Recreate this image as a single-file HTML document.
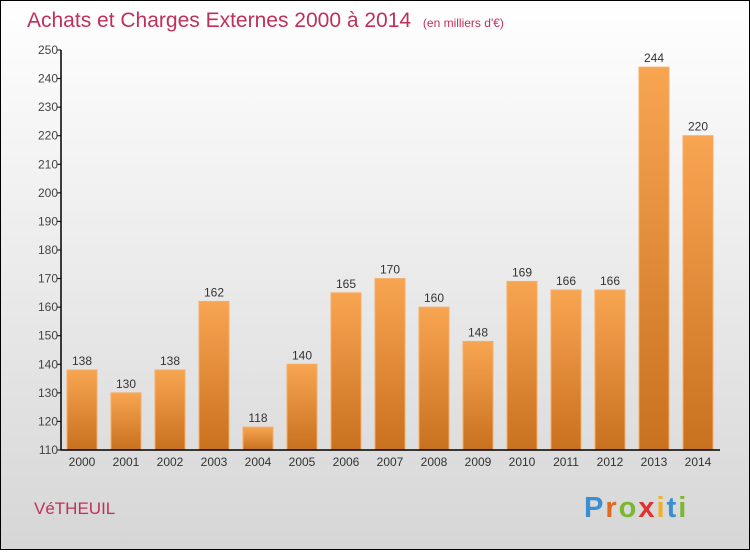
<!DOCTYPE html>
<html><head><meta charset="utf-8"><style>
html,body{margin:0;padding:0}
body{width:750px;height:550px;overflow:hidden;font-family:"Liberation Sans",sans-serif}
</style></head><body>
<svg id="chart" width="750" height="550" xmlns="http://www.w3.org/2000/svg">
<defs>
<linearGradient id="bg" x1="0" y1="0" x2="0" y2="1"><stop offset="0" stop-color="#ffffff"/><stop offset="1" stop-color="#d6d6d6"/></linearGradient>
<linearGradient id="bar" x1="0" y1="0" x2="0" y2="1"><stop offset="0" stop-color="#f8a552"/><stop offset="1" stop-color="#c8711e"/></linearGradient>
</defs>
<rect x="0.5" y="0.5" width="749" height="549" fill="url(#bg)" stroke="#000"/>
<text x="27" y="27" font-size="21" fill="#c0305a" style="font-weight:300">Achats et Charges Externes 2000 à 2014 <tspan font-size="12" dx="6">(en milliers d'€)</tspan></text>
<g id="plot"></g>
<text x="34" y="514" font-size="17" fill="#c0305a">VéTHEUIL</text>
<text x="584" y="517" font-size="29" font-weight="bold" letter-spacing="2"><tspan fill="#3a8fd0">P</tspan><tspan fill="#e06a20">r</tspan><tspan fill="#7ab830">o</tspan><tspan fill="#e03030">x</tspan><tspan fill="#f0b020">i</tspan><tspan fill="#3a8fd0">t</tspan><tspan fill="#7ab830">i</tspan></text>
</svg>
<script>
const categories=["2000","2001","2002","2003","2004","2005","2006","2007","2008","2009","2010","2011","2012","2013","2014"];
const values=[138,130,138,162,118,140,165,170,160,148,169,166,166,244,220];
const yTicks=[110,120,130,140,150,160,170,180,190,200,210,220,230,240,250];
const NS="http://www.w3.org/2000/svg";
const g=document.getElementById('plot');
const x0=61,x1=720,yMin=110,yMax=250,yTop=50,yBot=450;
const y=v=>yBot-(v-yMin)/(yMax-yMin)*(yBot-yTop);
const step=44,xc=i=>82+i*step;
function mk(t,a){const e=document.createElementNS(NS,t);for(const k in a)e.setAttribute(k,a[k]);g.appendChild(e);return e;}
yTicks.forEach(v=>{
 const t=mk('line',{x1:x0-4,x2:x0,y1:y(v),y2:y(v),stroke:'#000'});
 
 
 const l=mk('text',{x:x0-3,y:y(v)+4,'text-anchor':'end','font-size':12,fill:'#444'});
 l.textContent=v;
 
 
});
values.forEach((v,i)=>{
 const b=mk('rect',{x:xc(i)-15,y:y(v),width:30,height:yBot-y(v),fill:'url(#bar)',stroke:'#f5ad66','stroke-width':1});
 
 
 const l=mk('text',{x:xc(i),y:y(v)-5,'text-anchor':'middle','font-size':12,fill:'#333'});
 l.textContent=v;
 
 
 const c=mk('text',{x:xc(i),y:466,'text-anchor':'middle','font-size':12,fill:'#333'});
 c.textContent=categories[i];
 
 
});
const ya=mk('line',{x1:x0,x2:x0,y1:yTop,y2:yBot,stroke:'#000','stroke-width':1.5});


const xa=mk('line',{x1:x0,x2:x1,y1:yBot,y2:yBot,stroke:'#000','stroke-width':1.5});


</script>
</body></html>
